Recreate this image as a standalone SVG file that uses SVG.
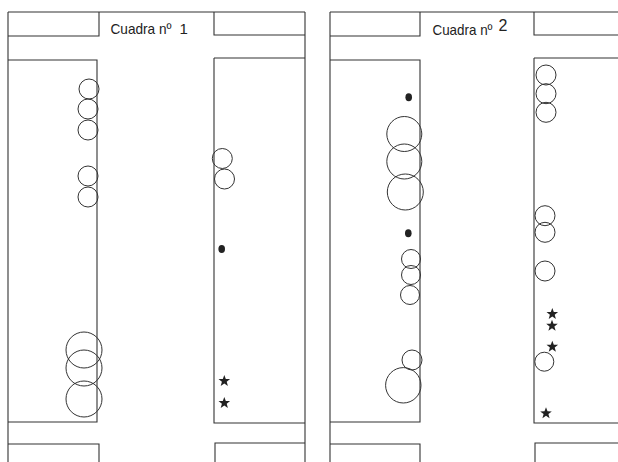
<svg xmlns="http://www.w3.org/2000/svg" xmlns:xlink="http://www.w3.org/1999/xlink" width="618" height="462" viewBox="0 0 618 462">
<style>
.ln{fill:none;stroke:#333;stroke-width:1.1}
.c{fill:none;stroke:#333;stroke-width:1}
.d{fill:#222}
.t{font-family:"Liberation Sans",Arial,sans-serif;font-size:15px;fill:#222}
</style>
<defs>
<polygon id="star" points="0,-6 1.5,-2 5.8,-1.9 2.4,0.8 3.6,5 0,2.5 -3.6,5 -2.4,0.8 -5.8,-1.9 -1.5,-2" fill="#222"/>
</defs>
<rect width="618" height="462" fill="#fff"/>
<g id="cuadra1">
<path class="ln" d="M8,12H305 M8,12V462 M305,12V462 M8,36H99V12 M214,12V35H305 M8,60H97V422H8 M214,58H305 M214,58V423H305 M8,444H99V462 M215,462V443H305"/>
<text class="t" x="110.5" y="34" textLength="61" lengthAdjust="spacingAndGlyphs">Cuadra nº</text>
<text class="t" x="179.5" y="34">1</text>
<g id="c1-left">
<circle class="c" cx="89" cy="89" r="10"/>
<circle class="c" cx="88" cy="109" r="10"/>
<circle class="c" cx="88" cy="130" r="10"/>
<circle class="c" cx="88" cy="176" r="10"/>
<circle class="c" cx="88" cy="197" r="10"/>
<circle class="c" cx="84" cy="350" r="18"/>
<circle class="c" cx="84" cy="368" r="18"/>
<circle class="c" cx="84" cy="399" r="18"/>
</g>
<g id="c1-right">
<circle class="c" cx="222.3" cy="158.5" r="10"/>
<circle class="c" cx="224.5" cy="179" r="10"/>
<ellipse class="d" cx="221.7" cy="249" rx="3.3" ry="4"/>
<use xlink:href="#star" x="224.3" y="381"/>
<use xlink:href="#star" x="224.3" y="403"/>
</g>
</g>
<g id="cuadra2">
<path class="ln" d="M330,12H618 M330,12V462 M330,36H420V12 M534,12V35H618 M330,60H420V422H330 M534,58H618 M534,58V423H618 M330,444H420V462 M535,462V443H618"/>
<text class="t" x="432.5" y="34.5" textLength="60" lengthAdjust="spacingAndGlyphs">Cuadra nº</text>
<text class="t" x="498.5" y="31" style="font-size:16px">2</text>
<g id="c2-left">
<ellipse class="d" cx="408.7" cy="97.3" rx="3.3" ry="4"/>
<circle class="c" cx="404.3" cy="134" r="17.5"/>
<circle class="c" cx="404.3" cy="161.5" r="17.5"/>
<circle class="c" cx="405.3" cy="192" r="18"/>
<ellipse class="d" cx="408.3" cy="233.3" rx="3.3" ry="4"/>
<circle class="c" cx="411" cy="259" r="9.5"/>
<circle class="c" cx="411" cy="275" r="9.5"/>
<circle class="c" cx="410" cy="295" r="9.5"/>
<circle class="c" cx="412" cy="360" r="10"/>
<circle class="c" cx="403.3" cy="385.3" r="17.7"/>
</g>
<g id="c2-right">
<circle class="c" cx="546" cy="75" r="10"/>
<circle class="c" cx="546" cy="93.7" r="10"/>
<circle class="c" cx="546" cy="112.3" r="10"/>
<circle class="c" cx="545" cy="215.7" r="10"/>
<circle class="c" cx="545" cy="232.3" r="10"/>
<circle class="c" cx="545" cy="271" r="10"/>
<circle class="c" cx="544.3" cy="361.7" r="9.5"/>
<use xlink:href="#star" x="552.3" y="314"/>
<use xlink:href="#star" x="552" y="325.7"/>
<use xlink:href="#star" x="552.3" y="346.7"/>
<use xlink:href="#star" x="546" y="413.3"/>
</g>
</g>
</svg>
